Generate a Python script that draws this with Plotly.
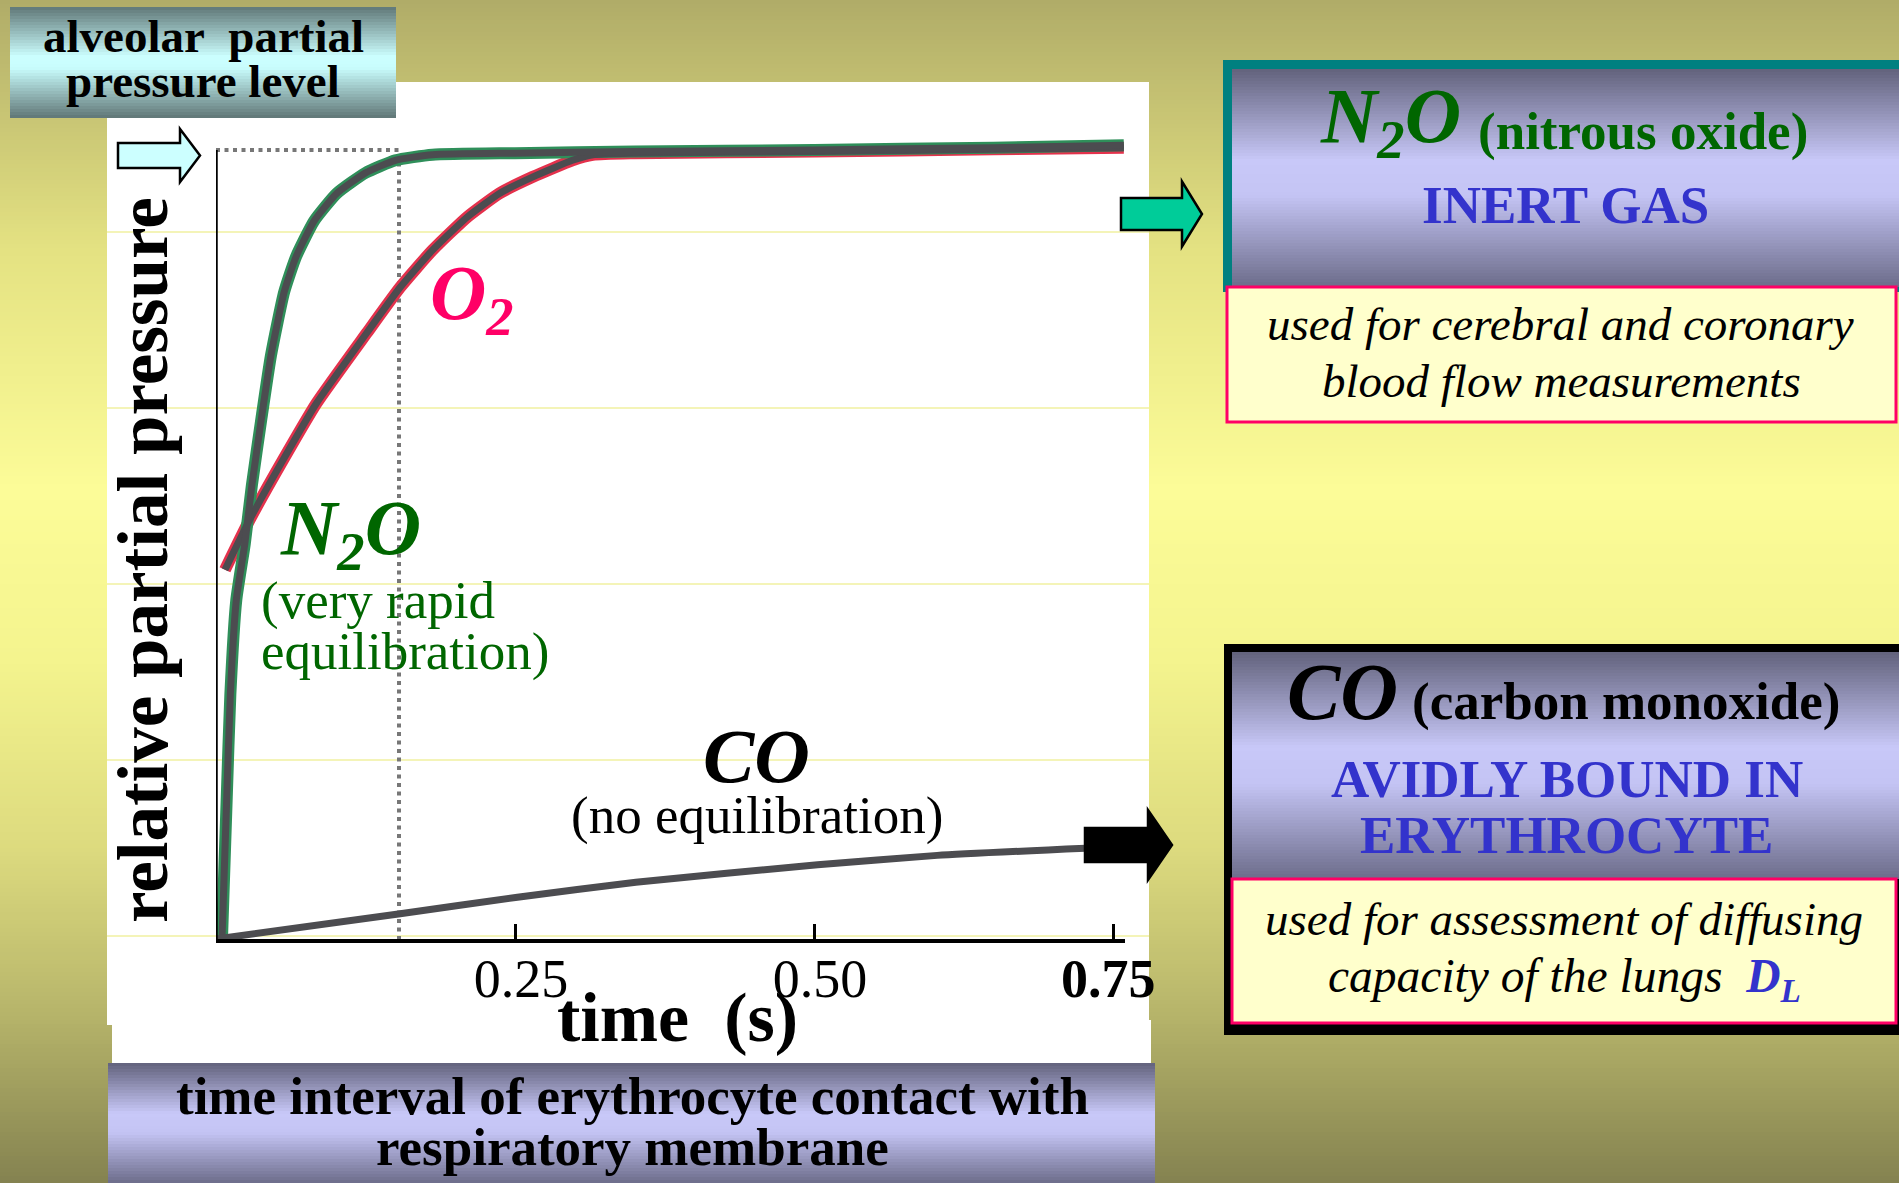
import plotly.graph_objects as go

W, H = 1899, 1183
SERIF = "Liberation Serif, Times New Roman, serif"

# ---------------------------------------------------------------- data
# time spent by the erythrocyte in the capillary (s) and the
# partial pressure relative to the alveolar level (1 = alveolar)
n2o_time = [0.005, 0.009, 0.012, 0.017, 0.024, 0.030, 0.038, 0.046, 0.057, 0.067,
            0.082, 0.101, 0.125, 0.150, 0.181, 0.25, 0.35, 0.50, 0.65, 0.759]
n2o_pressure = [0.0, 0.18, 0.31, 0.43, 0.50, 0.575, 0.66, 0.74, 0.82, 0.865,
                0.91, 0.945, 0.971, 0.987, 0.994, 0.996, 0.998, 1.0, 1.003, 1.006]

o2_time = [0.0075, 0.028, 0.056, 0.084, 0.126, 0.154, 0.181, 0.210, 0.237, 0.265,
           0.298, 0.315, 0.35, 0.50, 0.65, 0.759]
o2_pressure = [0.468, 0.531, 0.607, 0.679, 0.768, 0.826, 0.873, 0.915, 0.945, 0.966,
               0.987, 0.994, 0.996, 0.998, 1.001, 1.003]

co_time = [0.0, 0.154, 0.252, 0.351, 0.503, 0.603, 0.727]
co_pressure = [0.0, 0.032, 0.053, 0.072, 0.094, 0.106, 0.115]

marker_time = 0.153          # dotted guide: N2O reaches the alveolar level
alveolar_level = 1.0

tick_values = [0.25, 0.50, 0.75]
tick_labels = ["0.25", "0.50", "<b>0.75</b>\u2009\u2009"]

# ---------------------------------------------------------------- helpers
def fx(px):
    return px / W


def fy(py):
    return 1 - py / H


def mix(stops, pos):
    for (p0, c0), (p1, c1) in zip(stops, stops[1:]):
        if p0 <= pos <= p1:
            f = (pos - p0) / (p1 - p0) if p1 > p0 else 0
            return "rgb(%d,%d,%d)" % tuple(round(a + (b - a) * f) for a, b in zip(c0, c1))
    return "rgb(%d,%d,%d)" % stops[-1][1]


shapes = []


def rect(x0, y0, x1, y1, fill, line_color=None, line_width=0, layer="below"):
    shapes.append(dict(type="rect", xref="paper", yref="paper",
                       x0=fx(x0), x1=fx(x1), y0=fy(y1), y1=fy(y0),
                       fillcolor=fill, layer=layer,
                       line=dict(color=line_color or fill, width=line_width)))


def gradient(x0, y0, x1, y1, stops, step=3):
    y = y0
    while y < y1:
        pos = (y + step / 2 - y0) / (y1 - y0)
        shapes.append(dict(type="rect", xref="paper", yref="paper",
                           x0=fx(x0), x1=fx(x1), y0=fy(min(y + step + 1, y1)), y1=fy(y),
                           fillcolor=mix(stops, min(pos, 1)), layer="below",
                           line=dict(width=0)))
        y += step


def arrow(x0, x1, xh, yc, body, head, fill):
    pts = [(x0, yc - body), (x1, yc - body), (x1, yc - head), (xh, yc),
           (x1, yc + head), (x1, yc + body), (x0, yc + body)]
    path = "M " + " L ".join("%.5f,%.5f" % (fx(a), fy(b)) for a, b in pts) + " Z"
    shapes.append(dict(type="path", xref="paper", yref="paper", path=path,
                       fillcolor=fill, layer="above",
                       line=dict(color="black", width=2.5)))


annotations = []


def label(text, x, y, size, color="black", xanchor="center", angle=0):
    annotations.append(dict(text=text, x=fx(x), y=fy(y), xref="paper", yref="paper",
                            xanchor=xanchor, yanchor="middle", showarrow=False,
                            textangle=angle,
                            font=dict(family=SERIF, size=size, color=color)))


# ---------------------------------------------------------------- slide background
page_stops = [(0, (176, 172, 104)), (250, (228, 226, 130)), (490, (252, 252, 152)),
              (660, (244, 244, 142)), (850, (220, 218, 126)), (1000, (186, 184, 108)),
              (1183, (132, 130, 80))]
gradient(0, 0, W, H, [(p / H, c) for p, c in page_stops], step=4)

# white chart card with faint ruling
rect(107, 82, 1149, 1025, "white")
rect(112, 1020, 1151, 1064, "white")
for gy in [232, 408, 584, 760, 936]:
    shapes.append(dict(type="line", xref="paper", yref="paper",
                       x0=fx(107), x1=fx(1149), y0=fy(gy), y1=fy(gy), layer="below",
                       line=dict(color="rgba(238,238,150,0.9)", width=1.5)))

lavender = [(0, (98, 98, 124)), (0.42, (200, 200, 248)), (0.58, (196, 196, 244)),
            (1, (108, 108, 138))]
cyan = [(0, (96, 120, 120)), (0.45, (204, 255, 255)), (0.55, (200, 252, 252)),
        (1, (96, 118, 118))]

# header box over the axis
gradient(10, 7, 396, 118, cyan)
# caption box under the axis
gradient(108, 1063, 1155, H, lavender)

# N2O panel
rect(1223, 60, W + 5, 292, "#008080")
gradient(1232, 69, W, 287, lavender)
rect(1227, 287, 1896, 422, "#ffffcc", "#ff0066", 3)

# CO panel
rect(1224, 644, W + 5, 1035, "black")
gradient(1232, 652, W, 879, lavender)
rect(1232, 879, 1896, 1023, "#ffffcc", "#ff0066", 3)

# arrows
arrow(118, 180, 200, 155.5, 12.5, 26.5, "#ccffff")
arrow(1121, 1182, 1202, 214, 16, 32.5, "#00cc99")
arrow(1085, 1148, 1172, 845, 17, 35, "black")

# ---------------------------------------------------------------- plot area
T_MAX = 0.76
P_TOP = 1.04
X_LEFT, X_RIGHT = 216, 1125
Y_ZERO, PX_PER_UNIT = 939, 789

# vertical axis line up to the alveolar level
shapes.append(dict(type="line", xref="x", yref="y", x0=0, x1=0, y0=0, y1=alveolar_level,
                   layer="above", line=dict(color="black", width=3.5)))

DARK = "#4c4c50"
fig = go.Figure()

fig.add_trace(go.Scatter(x=[0, marker_time, marker_time], y=[alveolar_level, alveolar_level, 0],
                         mode="lines", hoverinfo="skip",
                         line=dict(color="#777777", width=4, dash="4px,4.5px")))

fig.add_trace(go.Scatter(x=o2_time, y=o2_pressure, mode="lines", name="O2",
                         line=dict(color="#e4314c", width=12, shape="spline", smoothing=0.5)))
fig.add_trace(go.Scatter(x=n2o_time, y=n2o_pressure, mode="lines", name="N2O",
                         line=dict(color="#2f8f5a", width=12, shape="spline", smoothing=0.5)))
fig.add_trace(go.Scatter(x=o2_time, y=o2_pressure, mode="lines", hoverinfo="skip",
                         line=dict(color=DARK, width=7, shape="spline", smoothing=0.5)))
fig.add_trace(go.Scatter(x=n2o_time, y=n2o_pressure, mode="lines", hoverinfo="skip",
                         line=dict(color=DARK, width=7, shape="spline", smoothing=0.5)))
fig.add_trace(go.Scatter(x=co_time, y=co_pressure, mode="lines", name="CO",
                         line=dict(color=DARK, width=7, shape="spline", smoothing=0.5)))

# ---------------------------------------------------------------- texts
label("<b>alveolar\u00a0 partial</b>", 203, 36, 47)
label("<b>pressure level</b>", 203, 81, 47)
label("<b>relative partial pressure</b>", 143, 560, 71, angle=-90)

label("<b><i>O<sub>2</sub></i></b>", 428, 298, 78, "#ff0066", xanchor="left")
label("<b><i>N<sub>2</sub>O</i></b>", 278, 533, 78, "#006600", xanchor="left")
label("(very rapid", 259, 600, 53, "#006600", xanchor="left")
label("equilibration)", 259, 651, 53, "#006600", xanchor="left")
label("<b><i>CO</i></b>", 756, 756, 77)
label("(no equilibration)", 757, 815, 53)

label("<b>time\u00a0 (s)</b>", 677, 1017, 70)
label("<b>time interval of erythrocyte contact with</b>", 632, 1096, 53)
label("<b>respiratory membrane</b>", 632, 1147, 53)

label("<b><i>N<sub>2</sub>O</i></b>", 1318, 121, 78, "#006600", xanchor="left")
label("<b>(nitrous oxide)</b>", 1476, 131, 53, "#006600", xanchor="left")
label("<b>INERT GAS</b>", 1565, 205, 53, "#3333cc")
label("<i>used for cerebral and coronary</i>", 1560, 324, 47)
label("<i>blood flow measurements</i>", 1561, 381, 47)

label("<b><i>CO</i></b>", 1285, 692, 80, xanchor="left")
label("<b>(carbon monoxide)</b>", 1410, 701, 53, xanchor="left")
label("<b>AVIDLY BOUND IN</b>", 1567, 779, 53, "#3333cc")
label("<b>ERYTHROCYTE</b>", 1566, 835, 53, "#3333cc")
label("<i>used for assessment of diffusing</i>", 1564, 919, 47)
label("<i>capacity of the lungs\u00a0 <b><span style='color:#3333cc'>D<sub>L</sub></span></b></i>",
      1564, 979, 47.5)

fig.update_layout(
    width=W, height=H,
    margin=dict(l=0, r=0, t=0, b=0, pad=0, autoexpand=False),
    paper_bgcolor="#fcfc98",
    plot_bgcolor="rgba(0,0,0,0)",
    showlegend=False,
    shapes=shapes,
    annotations=annotations,
    xaxis=dict(domain=[fx(X_LEFT), fx(X_RIGHT)], range=[0, T_MAX], automargin=False,
               showgrid=False, zeroline=False,
               showline=True, linecolor="black", linewidth=4,
               ticks="inside", ticklen=15, tickwidth=2.5, tickcolor="black",
               tickvals=tick_values, ticktext=tick_labels,
               ticklabelstandoff=-11, ticklabelshift=6,
               tickfont=dict(family=SERIF, size=54, color="black")),
    yaxis=dict(domain=[fy(Y_ZERO), fy(Y_ZERO - PX_PER_UNIT * P_TOP)], range=[0, P_TOP],
               automargin=False,
               showgrid=False, zeroline=False, showline=False,
               showticklabels=False, ticks=""),
)

fig.write_html("out.html")
